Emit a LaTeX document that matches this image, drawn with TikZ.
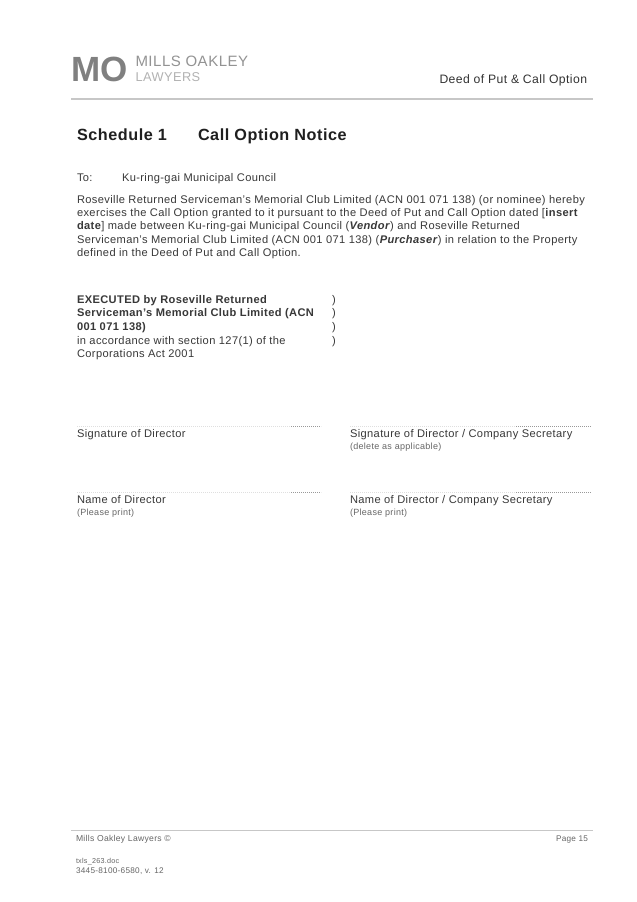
\documentclass[tikz,border=0pt]{standalone}
\usepackage{fontspec}
\setmainfont[LetterSpace=3.4]{Liberation Sans}
\newfontfamily\logofont{Liberation Sans}
\definecolor{bodyc}{gray}{0.22}
\definecolor{rulec}{gray}{0.78}
\definecolor{logoc}{gray}{0.5}
\definecolor{smallc}{gray}{0.4}
\definecolor{dotc}{gray}{0.6}
\tikzset{
 x=1pt,y=-1pt,
 txt/.style={anchor=base west,inner sep=0pt,outer sep=0pt,text=bodyc,font=\fontsize{11.1}{13}\selectfont},
 sml/.style={txt,text=smallc,font=\fontsize{9}{10}\selectfont},
 ftr/.style={txt,text=smallc,font=\fontsize{8.2}{10}\selectfont},
 heading/.style={txt,text=black!88,font=\fontsize{16.2}{18}\bfseries\selectfont},
 sigdots/.style={draw=dotc,line width=0.6pt,dash pattern=on 0.9pt off 1.1pt},
 sigfaint/.style={draw=gray!25,line width=0.5pt,dash pattern=on 0.9pt off 1.1pt},
 rulel/.style={draw=rulec,line width=1.2pt},
}
\begin{document}
\begin{tikzpicture}
\useasboundingbox[fill=white] (0,0) rectangle (637,902);
% logo
\node[txt,text=logoc,font=\logofont\fontsize{35}{35}\bfseries\selectfont] (logom) at (71.5,81) {M};
\node[txt,text=logoc,font=\logofont\fontsize{35}{35}\bfseries\selectfont] (logoo) at (100,81) {O};
\node[txt,text=logoc!85,font=\fontsize{15}{16}\selectfont] (logoa) at (135.5,66) {MILLS OAKLEY};
\node[txt,text=gray!60,font=\fontsize{12.8}{14}\selectfont] (logob) at (135.5,81) {LAWYERS};
\node[txt,font=\fontsize{12.2}{13}\selectfont,text=black!80] (hdr) at (439.5,83) {Deed of Put \& Call Option};
\coordinate (hl) at (71,99); \coordinate (hr) at (593,99);
\draw[rulel] (hl) -- (hr);
\node[heading] (sch) at (77,140.5) {Schedule 1};
\node[heading] (cal) at (198,140.5) {Call Option Notice};
\node[txt] (to) at (77,181.5) {To:};
\node[txt] (toa) at (122,181.5) {Ku-ring-gai Municipal Council};
\node[txt] (p1) at (77,203) {Roseville Returned Serviceman's Memorial Club Limited (ACN 001 071 138) (or nominee) hereby};
\node[txt] (p2) at (77,216) {exercises the Call Option granted to it pursuant to the Deed of Put and Call Option dated [\textbf{insert}};
\node[txt] (p3) at (77,229.5) {\textbf{date}] made between Ku-ring-gai Municipal Council (\textbf{\textit{Vendor}}) and Roseville Returned};
\node[txt] (p4) at (77,243) {Serviceman's Memorial Club Limited (ACN 001 071 138) (\textbf{\textit{Purchaser}}) in relation to the Property};
\node[txt] (p5) at (77,256.5) {defined in the Deed of Put and Call Option.};
\node[txt] (e1) at (77,303) {\textbf{EXECUTED by Roseville Returned}};
\node[txt] (e2) at (77,316) {\textbf{Serviceman's Memorial Club Limited (ACN}};
\node[txt] (e3) at (77,330) {\textbf{001 071 138)}};
\node[txt] (e4) at (77,344) {in accordance with section 127(1) of the};
\node[txt] (e5) at (77,357) {Corporations Act 2001};
\node[txt] (b1) at (332,303) {)};
\node[txt] (b2) at (332,316) {)};
\node[txt] (b3) at (332,330) {)};
\node[txt] (b4) at (332,344) {)};
% signature lines
\coordinate (s1a) at (77,426); \coordinate (s1m) at (291,426); \coordinate (s1b) at (321,426);
\coordinate (s2a) at (350,426); \coordinate (s2m) at (516,426); \coordinate (s2b) at (591,426);
\coordinate (s3a) at (77,492.5); \coordinate (s3m) at (291,492.5); \coordinate (s3b) at (321,492.5);
\coordinate (s4a) at (350,492.5); \coordinate (s4m) at (516,492.5); \coordinate (s4b) at (591,492.5);
\foreach \a/\m/\b in {s1a/s1m/s1b,s2a/s2m/s2b,s3a/s3m/s3b,s4a/s4m/s4b}{
 \draw[sigfaint] (\a) -- (\m);
 \draw[sigdots] (\m) -- (\b);
}
\node[txt] (l1) at (77,437) {Signature of Director};
\node[txt] (l2) at (350,437) {Signature of Director / Company Secretary};
\node[sml] (l2s) at (350,449) {(delete as applicable)};
\node[txt] (l3) at (77,503) {Name of Director};
\node[sml] (l3s) at (77,515) {(Please print)};
\node[txt] (l4) at (350,503) {Name of Director / Company Secretary};
\node[sml] (l4s) at (350,515) {(Please print)};
% footer
\coordinate (fl) at (71,830); \coordinate (fr) at (593,830);
\draw[rulel,line width=1pt] (fl) -- (fr);
\node[ftr,font=\fontsize{8.6}{10}\selectfont] (f1) at (76,841) {Mills Oakley Lawyers ©};
\node[ftr,anchor=base east] (f2) at (588,841) {Page 15};
\node[ftr,font=\fontsize{7.2}{10}\selectfont] (f3) at (76,863) {txls\_263.doc};
\node[ftr] (f4) at (76,873) {3445-8100-6580, v. 12};
\end{tikzpicture}
\end{document}
